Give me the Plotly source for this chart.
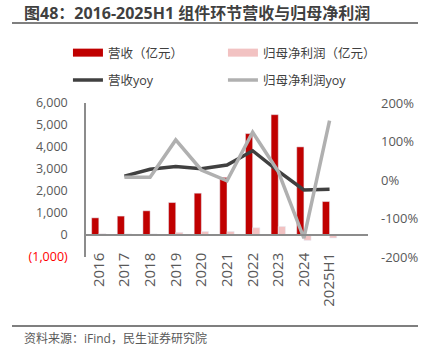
import plotly.graph_objects as go

categories = ["2016", "2017", "2018", "2019", "2020", "2021", "2022", "2023", "2024", "2025H1"]
revenue = [780, 860, 1100, 1475, 1900, 2620, 4610, 5470, 4005, 1520]
net_profit = [60, 50, 50, 120, 160, 160, 330, 390, -245, -135]
revenue_yoy = [None, 10, 28, 35, 29, 39, 76, 23, -26, -24]
profit_yoy = [None, 7, 7, 104, 26, -2, 124, 22, -151, 154]

left_ticks = [-1000, 0, 1000, 2000, 3000, 4000, 5000, 6000]
left_text = ["<span style='color:#FF0000'>(1,000)</span>", "0", "1,000", "2,000", "3,000", "4,000", "5,000", "6,000"]
right_ticks = [-200, -100, 0, 100, 200]
right_text = ["-200%", "-100%", "0%", "100%", "200%"]

RED = "#C00000"
PINK = "#F2C2C2"
DARK = "#404040"
LIGHT = "#B0B0B0"
FONT = "Open Sans, Noto Sans CJK SC, sans-serif"
TXT = "#595959"

fig = go.Figure()
fig.add_trace(go.Bar(x=categories, y=revenue, marker_color=RED, showlegend=False, name="营收（亿元）"))
fig.add_trace(go.Bar(x=categories, y=net_profit, marker_color=PINK, showlegend=False, name="归母净利润（亿元）"))
# legend entries (rectangles for bars)
fig.add_trace(go.Scatter(x=[None], y=[None], mode="lines", line=dict(color=RED, width=8),
                         name="营收（亿元）", legend="legend"))
fig.add_trace(go.Scatter(x=[None], y=[None], mode="lines", line=dict(color=PINK, width=8),
                         name="归母净利润（亿元）", legend="legend"))
fig.add_trace(go.Scatter(x=categories, y=revenue_yoy, mode="lines", yaxis="y2",
                         line=dict(color=DARK, width=3.5), name="营收yoy", legend="legend2"))
fig.add_trace(go.Scatter(x=categories, y=profit_yoy, mode="lines", yaxis="y2",
                         line=dict(color=LIGHT, width=3.5), name="归母净利润yoy", legend="legend2"))

fig.update_layout(
    width=430, height=356,
    margin=dict(l=86, r=62, t=103, b=99),
    paper_bgcolor="white", plot_bgcolor="white",
    font=dict(family=FONT, color=TXT),
    barmode="group", bargap=0.44, bargroupgap=0,
    xaxis=dict(type="category", range=[-0.5, 10.5], anchor="free", position=1/7,
               showline=True, linecolor="#8C8C8C", linewidth=1.5, showgrid=False,
               tickangle=-90, tickfont=dict(size=15, color=TXT), ticks="", ticklabelstandoff=11),
    yaxis=dict(range=[-1000, 6000], tickvals=left_ticks, ticktext=left_text, showgrid=False,
               zeroline=False, showline=True, linecolor="#8C8C8C", linewidth=1.5,
               tickfont=dict(size=12.5, color=TXT), ticks="", ticklabelstandoff=14),
    yaxis2=dict(range=[-200, 200], overlaying="y", side="right", tickvals=right_ticks,
                ticktext=right_text, showgrid=False, zeroline=False, showline=False,
                tickfont=dict(size=13, color=TXT), ticks="", ticklabelstandoff=12),
    legend=dict(orientation="h", x=-0.064, xanchor="left", y=1.422, yanchor="top",
                font=dict(size=12.5, color=DARK), entrywidth=110, bgcolor="rgba(0,0,0,0)"),
    legend2=dict(orientation="h", x=-0.064, xanchor="left", y=1.245, yanchor="top",
                 font=dict(size=12.5, color=DARK), entrywidth=110, bgcolor="rgba(0,0,0,0)"),
    shapes=[
        dict(type="line", xref="paper", yref="paper", x0=-74/282, x1=332/282,
             y0=1 + 80/154, y1=1 + 80/154, line=dict(color="#555555", width=1.5)),
        dict(type="line", xref="paper", yref="paper", x0=-74/282, x1=332/282,
             y0=-69/154, y1=-69/154, line=dict(color="#555555", width=1.5)),
    ],
    annotations=[
        dict(text="<b>图48：2016-2025H1 组件环节营收与归母净利润</b>", xref="paper", yref="paper",
             x=-64/282, y=1 + 90/154, xanchor="left", yanchor="middle", showarrow=False,
             font=dict(size=16, color="#404040", family=FONT)),
        dict(text="资料来源：iFind，民生证券研究院", xref="paper", yref="paper",
             x=-64/282, y=-81/154, xanchor="left", yanchor="middle", showarrow=False,
             font=dict(size=12, color=TXT, family=FONT)),
    ],
)

fig.write_html("out.html", config={"displayModeBar": False},
               post_script="document.body.style.margin='0';document.body.style.padding='0';"
                           "document.body.style.overflow='hidden';")
